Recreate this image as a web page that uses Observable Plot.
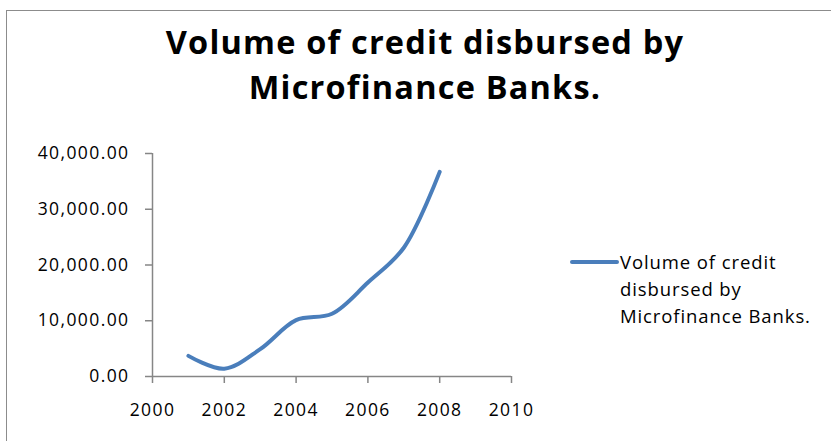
<!DOCTYPE html>
<html>
<head>
<meta charset="utf-8">
<script src="https://cdn.jsdelivr.net/npm/d3@7"></script>
<script src="https://cdn.jsdelivr.net/npm/@observablehq/plot@0.6"></script>
<style>
  html, body { margin: 0; padding: 0; background: #fff; }
  #wrap { position: relative; width: 831px; height: 441px; overflow: hidden; background: #fff; }
  #frame { position: absolute; left: 6px; top: 10px; width: 840px; height: 450px; border: 1.5px solid #8c8c8c; box-sizing: border-box; }
  #chart { position: absolute; left: 0; top: 0; }
  #title { position: absolute; left: 0; width: 850px; top: 19px; text-align: center; font-family: "Open Sans", sans-serif; font-weight: 700; font-size: 32.5px; line-height: 45px; color: #000; letter-spacing: 1.2px; }
  #legend { position: absolute; left: 570px; top: 248px; font-family: "Open Sans", sans-serif; font-size: 18.5px; line-height: 27px; color: #000; }
  #legend .sw { position: absolute; left: 0; top: 12px; width: 49px; height: 4px; background: #4a7ebb; border-radius: 2px; }
  #legend .tx { position: absolute; left: 50px; top: 0; white-space: nowrap; letter-spacing: 0.9px; }
</style>
</head>
<body>
<div id="wrap">
  <div id="frame"></div>
  <div id="chart"></div>
  <div id="title">Volume of credit disbursed by<br>Microfinance Banks.</div>
  <div id="legend"><div class="sw"></div><div class="tx">Volume of credit<br>disbursed by<br>Microfinance Banks.</div></div>
</div>
<script>
const years = [2001, 2002, 2003, 2004, 2005, 2006, 2007, 2008];
const volume = [3700, 1400, 4900, 10100, 11250, 16850, 23100, 36700];
const xTicks = [2000, 2002, 2004, 2006, 2008, 2010];
const yTicks = [0, 10000, 20000, 30000, 40000];
const seriesName = "Volume of credit disbursed by Microfinance Banks.";

const data = years.map((y, i) => ({year: y, value: volume[i]}));
const axisGray = "#868686";

const chart = Plot.plot({
  width: 831,
  height: 441,
  marginLeft: 152,
  marginRight: 320,
  marginTop: 153,
  marginBottom: 65,
  style: {fontFamily: "'Open Sans', sans-serif", fontSize: "17.5px", color: "#000", background: "transparent", letterSpacing: "1.4px"},
  x: {domain: [2000, 2010]},
  y: {domain: [0, 40000]},
  marks: [
    Plot.ruleX([2000], {stroke: axisGray, strokeWidth: 1.5}),
    Plot.ruleY([0], {stroke: axisGray, strokeWidth: 1.5}),
    Plot.axisX({ticks: xTicks, tickFormat: d => String(d), tickSize: 7, tickPadding: 20, stroke: axisGray, strokeWidth: 1.5, fill: "#000", label: null}),
    Plot.axisY({ticks: yTicks, tickFormat: d3.format(",.2f"), tickSize: 7, tickPadding: 16, stroke: axisGray, strokeWidth: 1.5, fill: "#000", label: null}),
    Plot.line(data, {x: "year", y: "value", curve: "catmull-rom", stroke: "#4a7ebb", strokeWidth: 4, strokeLinecap: "round", title: () => seriesName})
  ]
});
document.getElementById("chart").appendChild(chart);
</script>
</body>
</html>
